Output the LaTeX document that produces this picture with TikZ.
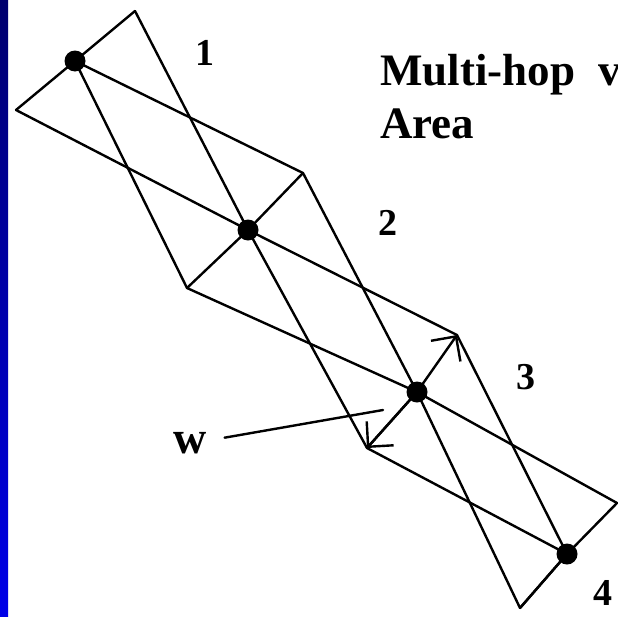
\documentclass[tikz,border=0pt]{standalone}
\usepackage{fontspec}
\setmainfont{Liberation Serif}
\usetikzlibrary{arrows.meta}
\definecolor{bartop}{HTML}{00006E}
\definecolor{barbot}{HTML}{0000E8}
\begin{document}
\begin{tikzpicture}[x=1pt,y=-1pt,
  edge/.style={line width=2.4pt,line cap=round,line join=round},
  dot/.style={circle,fill=black,inner sep=0pt,minimum size=21pt},
  lbl/.style={inner sep=0pt,anchor=base west,font=\bfseries\fontsize{38}{38}\selectfont},
  title/.style={inner sep=0pt,anchor=base west,font=\bfseries\fontsize{45}{45}\selectfont},
  wid/.style={edge,-{Straight Barb[length=18pt,width=36pt,line width=2.4pt]}}]
\useasboundingbox (0,0) rectangle (618,616);
\clip (0,0) rectangle (618,616);
\fill[white] (0,0) rectangle (618,616);
\shade[top color=bartop,bottom color=barbot] (0,0) rectangle (8,616);
% hop nodes
\node[dot] (n1) at (75,61) {};
\node[dot] (n2) at (248,230) {};
\node[dot] (n3) at (417,392) {};
\node[dot] (n4) at (567,554) {};
% width end points
\coordinate (a1) at (135,11);
\coordinate (b1) at (16,110);
\coordinate (a2) at (303,173);
\coordinate (b2) at (187,288);
\coordinate (a3) at (457,335);
\coordinate (b3) at (367,448);
\coordinate (a4) at (617,503);
\coordinate (b4) at (520,608);
% width segments
\draw[edge] (a1) -- (n1.center) -- (b1);
\draw[edge] (a2) -- (n2.center) -- (b2);
\draw[edge] (a4) -- (n4.center) -- (b4);
\draw[wid] (n3.center) -- (a3);
\draw[wid] (n3.center) -- (b3);
% hop areas
\draw[edge] (a1) -- (n2.center) -- (b1);
\draw[edge] (a2) -- (n1.center) -- (b2);
\draw[edge] (a2) -- (n3.center) -- (b2);
\draw[edge] (a3) -- (n2.center) -- (b3);
\draw[edge] (a3) -- (n4.center) -- (b4);
\draw[edge] (a4) -- (n3.center) -- (b3);
\draw[edge] (b4) -- (n3.center);
\draw[edge] (b3) -- (n4.center);
% labels
\node[lbl] (l1) at (195,65) {1};
\node[lbl] (l2) at (378,235) {2};
\node[lbl] (l3) at (516,389) {3};
\node[lbl] (l4) at (593,605) {4};
\node[title] (t1) at (380,85) {Multi-hop\hspace{12pt} v};
\node[title] (t2) at (380,138) {Area};
\node[inner sep=0pt,anchor=base west,font=\bfseries\fontsize{46}{46}\selectfont] (w) at (173,453) {w};
\coordinate (wtip) at (383,410);
\draw[edge] ([xshift=18pt,yshift=5pt]w.east) -- (wtip);
\end{tikzpicture}
\end{document}
